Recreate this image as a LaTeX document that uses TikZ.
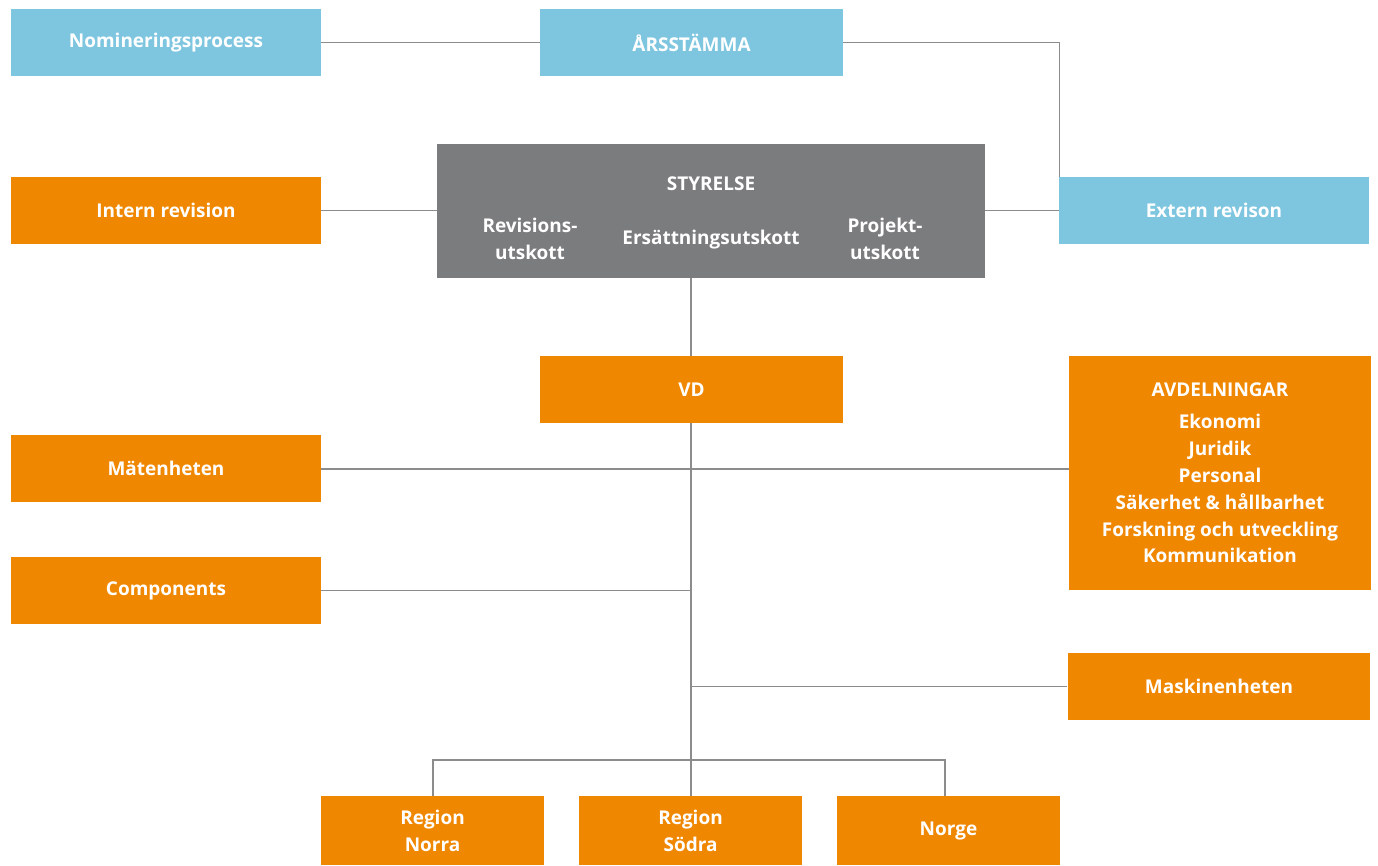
\documentclass[tikz,border=0pt]{standalone}
\usepackage{fontspec}
\setmainfont{Open Sans}
\definecolor{kblue}{HTML}{7EC6E0}
\definecolor{korange}{HTML}{F08700}
\definecolor{kgray}{HTML}{7B7C7E}
\definecolor{kline}{HTML}{8C8C8C}
\begin{document}
\begin{tikzpicture}[x=0.02cm, y=-0.02cm,
    box/.style={inner sep=0pt, text=white, font=\bfseries\fontsize{10.8}{15.3}\selectfont, align=center, minimum height=1.34cm},
    bluebox/.style={box, fill=kblue},
    orangebox/.style={box, fill=korange},
    wide/.style={minimum width=6.2cm},
    mid/.style={minimum width=6.06cm},
    small/.style={minimum width=4.46cm, minimum height=1.38cm},
    conn/.style={draw=kline, line width=0.6pt}]
    \useasboundingbox (0,0) rectangle (1378,865);

    % top row
    \node[bluebox, wide] (nom) at (166,42.5) {Nomineringsprocess};
    \node[bluebox, mid] (arsst) at (691.5,42.5) {ÅRSSTÄMMA};

    % board
    \node[box, fill=kgray, minimum width=10.96cm, minimum height=2.68cm] (styr) at (711,211) {};
    \node[box, minimum height=0pt] (styrtitle) at (711,184) {STYRELSE};
    \node[box, minimum height=0pt] (revu) at (530,239) {Revisions-\\utskott};
    \node[box, minimum height=0pt] (ersu) at (711,240) {Ersättningsutskott};
    \node[box, minimum height=0pt] (proju) at (885,239) {Projekt-\\utskott};

    \node[orangebox, wide] (intrev) at (166,210.5) {Intern revision};
    \node[bluebox, wide] (extrev) at (1214,210.5) {Extern revison};

    % management
    \node[orangebox, mid] (vd) at (691.5,389.5) {VD};
    \node[orangebox, minimum width=6.04cm, minimum height=4.68cm] (avd) at (1220,473)
        {AVDELNINGAR\\[2.9pt] Ekonomi\\ Juridik\\ Personal\\ Säkerhet \& hållbarhet\\ Forskning och utveckling\\ Kommunikation};
    \node[orangebox, wide] (maet) at (166,468.5) {Mätenheten};
    \node[orangebox, wide] (comp) at (166,590.5) {Components};
    \node[orangebox, mid] (mask) at (1219,686.5) {Maskinenheten};

    % regions
    \node[orangebox, small] (norra) at (432.5,830.5) {Region\\Norra};
    \node[orangebox, small] (sodra) at (690.5,830.5) {Region\\Södra};
    \node[orangebox, small] (norge) at (948.5,830.5) {Norge};

    \coordinate (split) at (691,760);

    % connectors
    \draw[conn] (nom.east) -- (arsst.west);
    \draw[conn] (arsst.east) -| ([xshift=0.02cm]extrev.north west);
    \draw[conn] (intrev.east) -- (intrev.east -| styr.west);
    \draw[conn] (extrev.west) -- (extrev.west -| styr.east);
    \draw[conn] (styr.south -| split) -- (vd.north -| split);
    \draw[conn] (vd.south -| split) -- (split);
    \draw[conn] (maet.east |- 0,469) -- (avd.west |- 0,469);
    \draw[conn] (comp.east) -- (comp.east -| split);
    \draw[conn] (mask.west) -- (mask.west -| split);
    \draw[conn] (norra.north -| 433,0) |- (split) -| (norge.north -| 945,0);
    \draw[conn] (split) -- (split |- sodra.north);
\end{tikzpicture}
\end{document}
